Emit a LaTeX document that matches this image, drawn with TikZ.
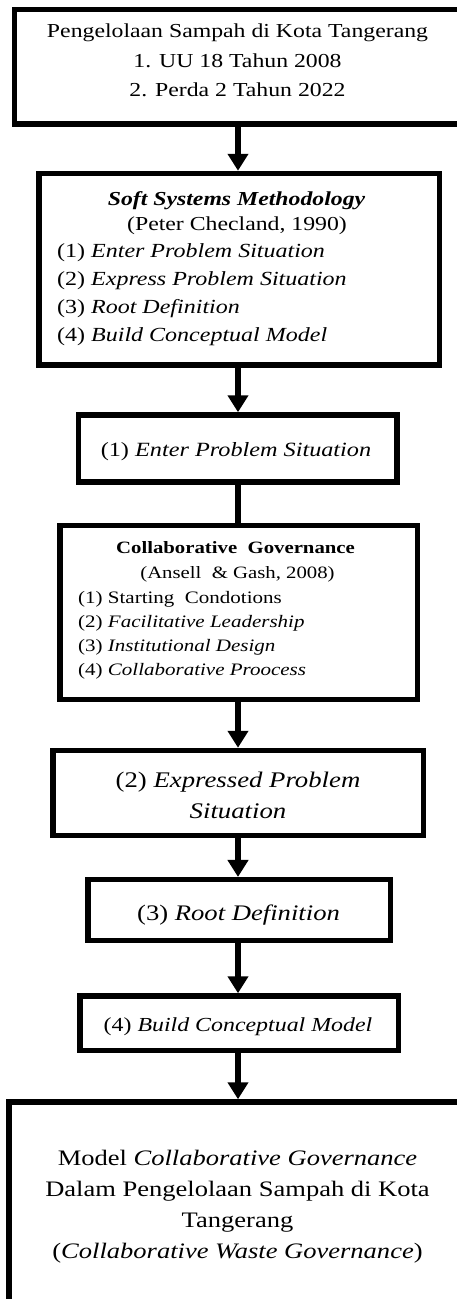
\documentclass[tikz,border=0pt]{standalone}
\usepackage{fontspec}
\setmainfont{Liberation Serif}[FakeStretch=1.2]
\usetikzlibrary{arrows.meta}

\newcommand\fsz[2]{\fontsize{#1}{#2}\selectfont}

\begin{document}
\begin{tikzpicture}[x=1pt,y=-1pt,
  frame/.style={draw=black, line width=5.5pt, fill=white, inner sep=0pt},
  flow/.style={line width=6pt, -{Triangle[width=20pt,length=17pt]}},
  link/.style={line width=6pt},
  lbl/.style={inner sep=0pt, anchor=base},
  lst/.style={inner sep=0pt, anchor=base west},
]
\useasboundingbox (0,0) rectangle (457,1299);
\clip (0,0) rectangle (457,1299);
\fill[white] (0,0) rectangle (457,1299);

% frames of the flow
\node[frame, minimum width=446.5pt, minimum height=114.5pt] (b1) at (237.75,66.75) {};
\node[frame, minimum width=400.5pt, minimum height=191.5pt] (b2) at (239.25,269.25) {};
\node[frame, minimum width=318.5pt, minimum height=67pt]    (b3) at (237.75,448.5) {};
\node[frame, minimum width=357.5pt, minimum height=174.2pt] (b4) at (238.75,612.6) {};
\node[frame, minimum width=370.7pt, minimum height=84.8pt]  (b5) at (238.35,792.9) {};
\node[frame, minimum width=302.5pt, minimum height=60.8pt]  (b6) at (239.25,910.1) {};
\node[frame, minimum width=318.5pt, minimum height=54.3pt]  (b7) at (239.25,1023.15) {};
\node[frame, minimum width=457pt,   minimum height=238pt]   (b8) at (237.5,1221) {};

% connectors along the central spine
\coordinate (spine) at (238,0);
\draw[flow] (b1.south -| spine) -- (b2.north -| spine);
\draw[flow] (b2.south -| spine) -- (b3.north -| spine);
\draw[link] (b3.south -| spine) -- (b4.north -| spine);
\draw[flow] (b4.south -| spine) -- (b5.north -| spine);
\draw[flow] (b5.south -| spine) -- (b6.north -| spine);
\draw[flow] (b6.south -| spine) -- (b7.north -| spine);
\draw[flow] (b7.south -| spine) -- (b8.north -| spine);

% texts
\node[lbl, font=\fsz{19.8}{29.7}] (t1) at (237.5,37.3)
  {\begin{tabular}[t]{@{}c@{}}Pengelolaan Sampah di Kota Tangerang\\1. UU 18 Tahun 2008\\2. Perda 2 Tahun 2022\end{tabular}};

\node[lbl, font=\fsz{19.8}{25}\bfseries\itshape] (t2a) at (236.5,205) {Soft Systems Methodology};
\node[lbl, font=\fsz{19.8}{25}] (t2b) at (237,230) {(Peter Checland, 1990)};
\node[lst, font=\fsz{20}{28.1}] (t2c) at (57,257.3)
  {\begin{tabular}[t]{@{}l@{}}(1) \textit{Enter Problem Situation}\\(2) \textit{Express Problem Situation}\\(3) \textit{Root Definition}\\(4) \textit{Build Conceptual Model}\end{tabular}};

\node[lbl, font=\fsz{20.2}{24}] (t3) at (236,456.7) {(1) \textit{Enter Problem Situation}};

\node[lbl, font=\fsz{17.3}{24.5}\bfseries] (t4a) at (235.5,553) {Collaborative\hspace{0.3em} Governance};
\node[lbl, font=\fsz{17.3}{24.5}] (t4b) at (237.5,578) {(Ansell\hspace{0.3em} \& Gash, 2008)};
\node[lst, font=\fsz{17.5}{24.3}] (t4c) at (78,603)
  {\begin{tabular}[t]{@{}l@{}}(1) Starting\hspace{0.3em} Condotions\\(2) \textit{Facilitative Leadership}\\(3) \textit{Institutional Design}\\(4) \textit{Collaborative Proocess}\end{tabular}};

\node[lbl, font=\fsz{22.3}{31}] (t5) at (238,787)
  {\begin{tabular}[t]{@{}c@{}}(2) \textit{Expressed Problem}\\\textit{Situation}\end{tabular}};

\node[lbl, font=\fsz{22.2}{30}] (t6) at (238.5,920) {(3) \textit{Root Definition}};

\node[lbl, font=\fsz{19.9}{28}] (t7) at (238,1031.7) {(4) \textit{Build Conceptual Model}};

\node[lbl, font=\fsz{22.1}{31}] (t8) at (237.5,1165)
  {\begin{tabular}[t]{@{}c@{}}Model \textit{Collaborative Governance}\\Dalam Pengelolaan Sampah di Kota\\Tangerang\\(\textit{Collaborative Waste Governance})\end{tabular}};
\end{tikzpicture}
\end{document}
